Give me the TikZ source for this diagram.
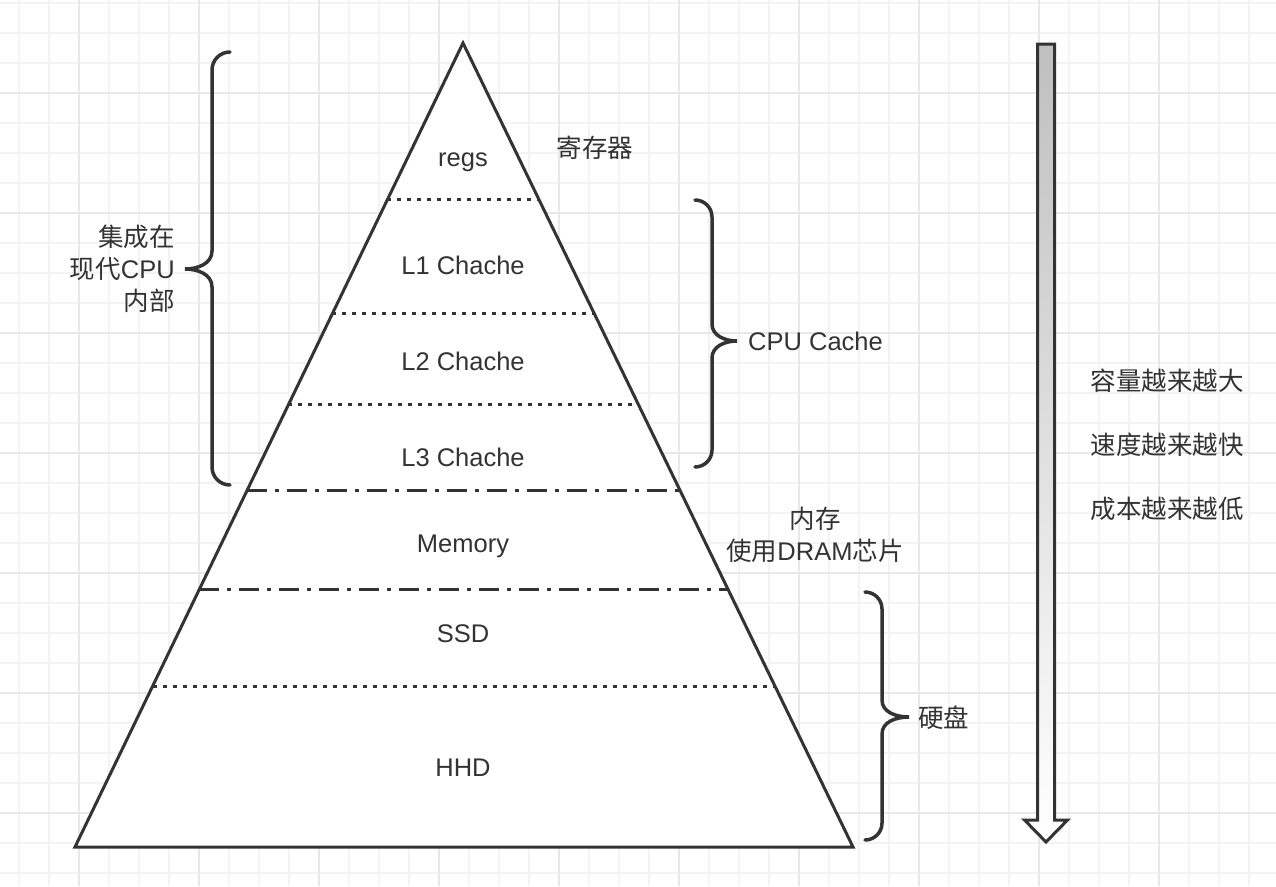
\documentclass[tikz,border=0pt]{standalone}
\usepackage{fontspec}
\setmainfont{Liberation Sans}
\newfontfamily\cjk{Noto Sans CJK SC}
\usepackage{xcolor}
\usetikzlibrary{calc,positioning}

\definecolor{ink}{HTML}{333333}
\definecolor{gridminor}{HTML}{F3F3F3}
\definecolor{gridmajor}{HTML}{E8E8E8}

\tikzset{
  lbl/.style={font=\fontsize{25.5}{32}\selectfont, text=ink, inner sep=0pt},
  dotline/.style={draw=ink, line width=3pt, dash pattern=on 4pt off 6pt},
  dashdot/.style={draw=ink, line width=3pt, dash pattern=on 20pt off 8pt on 4pt off 8pt},
  curly/.style={draw=ink, line width=3.5pt, line cap=round},
}

\begin{document}
\begin{tikzpicture}[x=1pt, y=-1pt]
    \useasboundingbox (0,0) rectangle (1276,886);
    \fill[white] (0,0) rectangle (1276,886);
    % background grid
    \foreach \gx in {19,49,...,1276} \draw[gridminor, line width=2pt] (\gx,0) -- (\gx,886);
    \foreach \gy in {3,33,...,886} \draw[gridminor, line width=2pt] (0,\gy) -- (1276,\gy);
    \foreach \gx in {79,199,...,1276} \draw[gridmajor, line width=2pt] (\gx,0) -- (\gx,886);
    \foreach \gy in {93,213,...,886} \draw[gridmajor, line width=2pt] (0,\gy) -- (1276,\gy);

    % pyramid
    \coordinate (top) at (463,43);
    \coordinate (bl) at (75,847);
    \coordinate (br) at (853,847);
    \draw[ink, line width=3pt, fill=white, line join=miter] (top) -- (bl) -- (br) -- cycle;

    \draw[dotline] ($(top)!0.195!(bl)$) -- ($(top)!0.195!(br)$);
    \draw[dotline] ($(top)!0.337!(bl)$) -- ($(top)!0.337!(br)$);
    \draw[dotline] ($(top)!0.450!(bl)$) -- ($(top)!0.450!(br)$);
    \draw[dashdot] ($(top)!0.557!(bl)$) -- ($(top)!0.557!(br)$);
    \draw[dashdot] ($(top)!0.680!(bl)$) -- ($(top)!0.680!(br)$);
    \draw[dotline] ($(top)!0.800!(bl)$) -- ($(top)!0.800!(br)$);

    \node[lbl] (regs) at (463,162) {regs};
    \node[lbl] (l1) at (463,265) {L1 Chache};
    \node[lbl] (l2) at (463,361) {L2 Chache};
    \node[lbl] (l3) at (463,457) {L3 Chache};
    \node[lbl] (mem) at (463,546) {Memory};
    \node[lbl] (ssd) at (463,634) {SSD};
    \node[lbl] (hhd) at (463,768) {HHD};

    \node[lbl] (regname) at (595,148) {\cjk 寄存器};
    \node[lbl, align=center] (memname) at (815,535) {{\cjk 内存}\\{\cjk 使用}DRAM{\cjk 芯片}};

    % braces
    \draw[curly] (230,52) to[out=180,in=90] (212,70) -- (212,251)
        to[out=-90,in=0] (185,269) to[out=0,in=90] (212,287) -- (212,467)
        to[out=-90,in=180] (230,485);
    \node[lbl, align=right, anchor=east] (incpu) at (175,269) {{\cjk 集成在}\\{\cjk 现代}CPU\\{\cjk 内部}};

    \draw[curly] (695,200) to[out=0,in=90] (712,217) -- (712,324)
        to[out=-90,in=180] (737,341) to[out=180,in=90] (712,358) -- (712,450)
        to[out=-90,in=0] (695,467);
    \node[lbl, anchor=west] (cache) at (748,341) {CPU Cache};

    \draw[curly] (865,592) to[out=0,in=90] (882,609) -- (882,700)
        to[out=-90,in=180] (909,717) to[out=180,in=90] (882,734) -- (882,823)
        to[out=-90,in=0] (865,840);
    \node[lbl, anchor=west] (disk) at (918,718) {\cjk 硬盘};

    % trend arrow
    \draw[ink, line width=3pt, line join=miter, top color=gray!50, bottom color=white]
        (1037.5,44) -- (1054.5,44) -- (1054.5,820) -- (1067.5,820) -- (1046,842)
        -- (1024.5,820) -- (1037.5,820) -- cycle;
    \node[lbl] (size) at (1167,381) {\cjk 容量越来越大};
    \node[lbl] (speed) at (1167,445) {\cjk 速度越来越快};
    \node[lbl] (cost) at (1167,509) {\cjk 成本越来越低};
\end{tikzpicture}
\end{document}
